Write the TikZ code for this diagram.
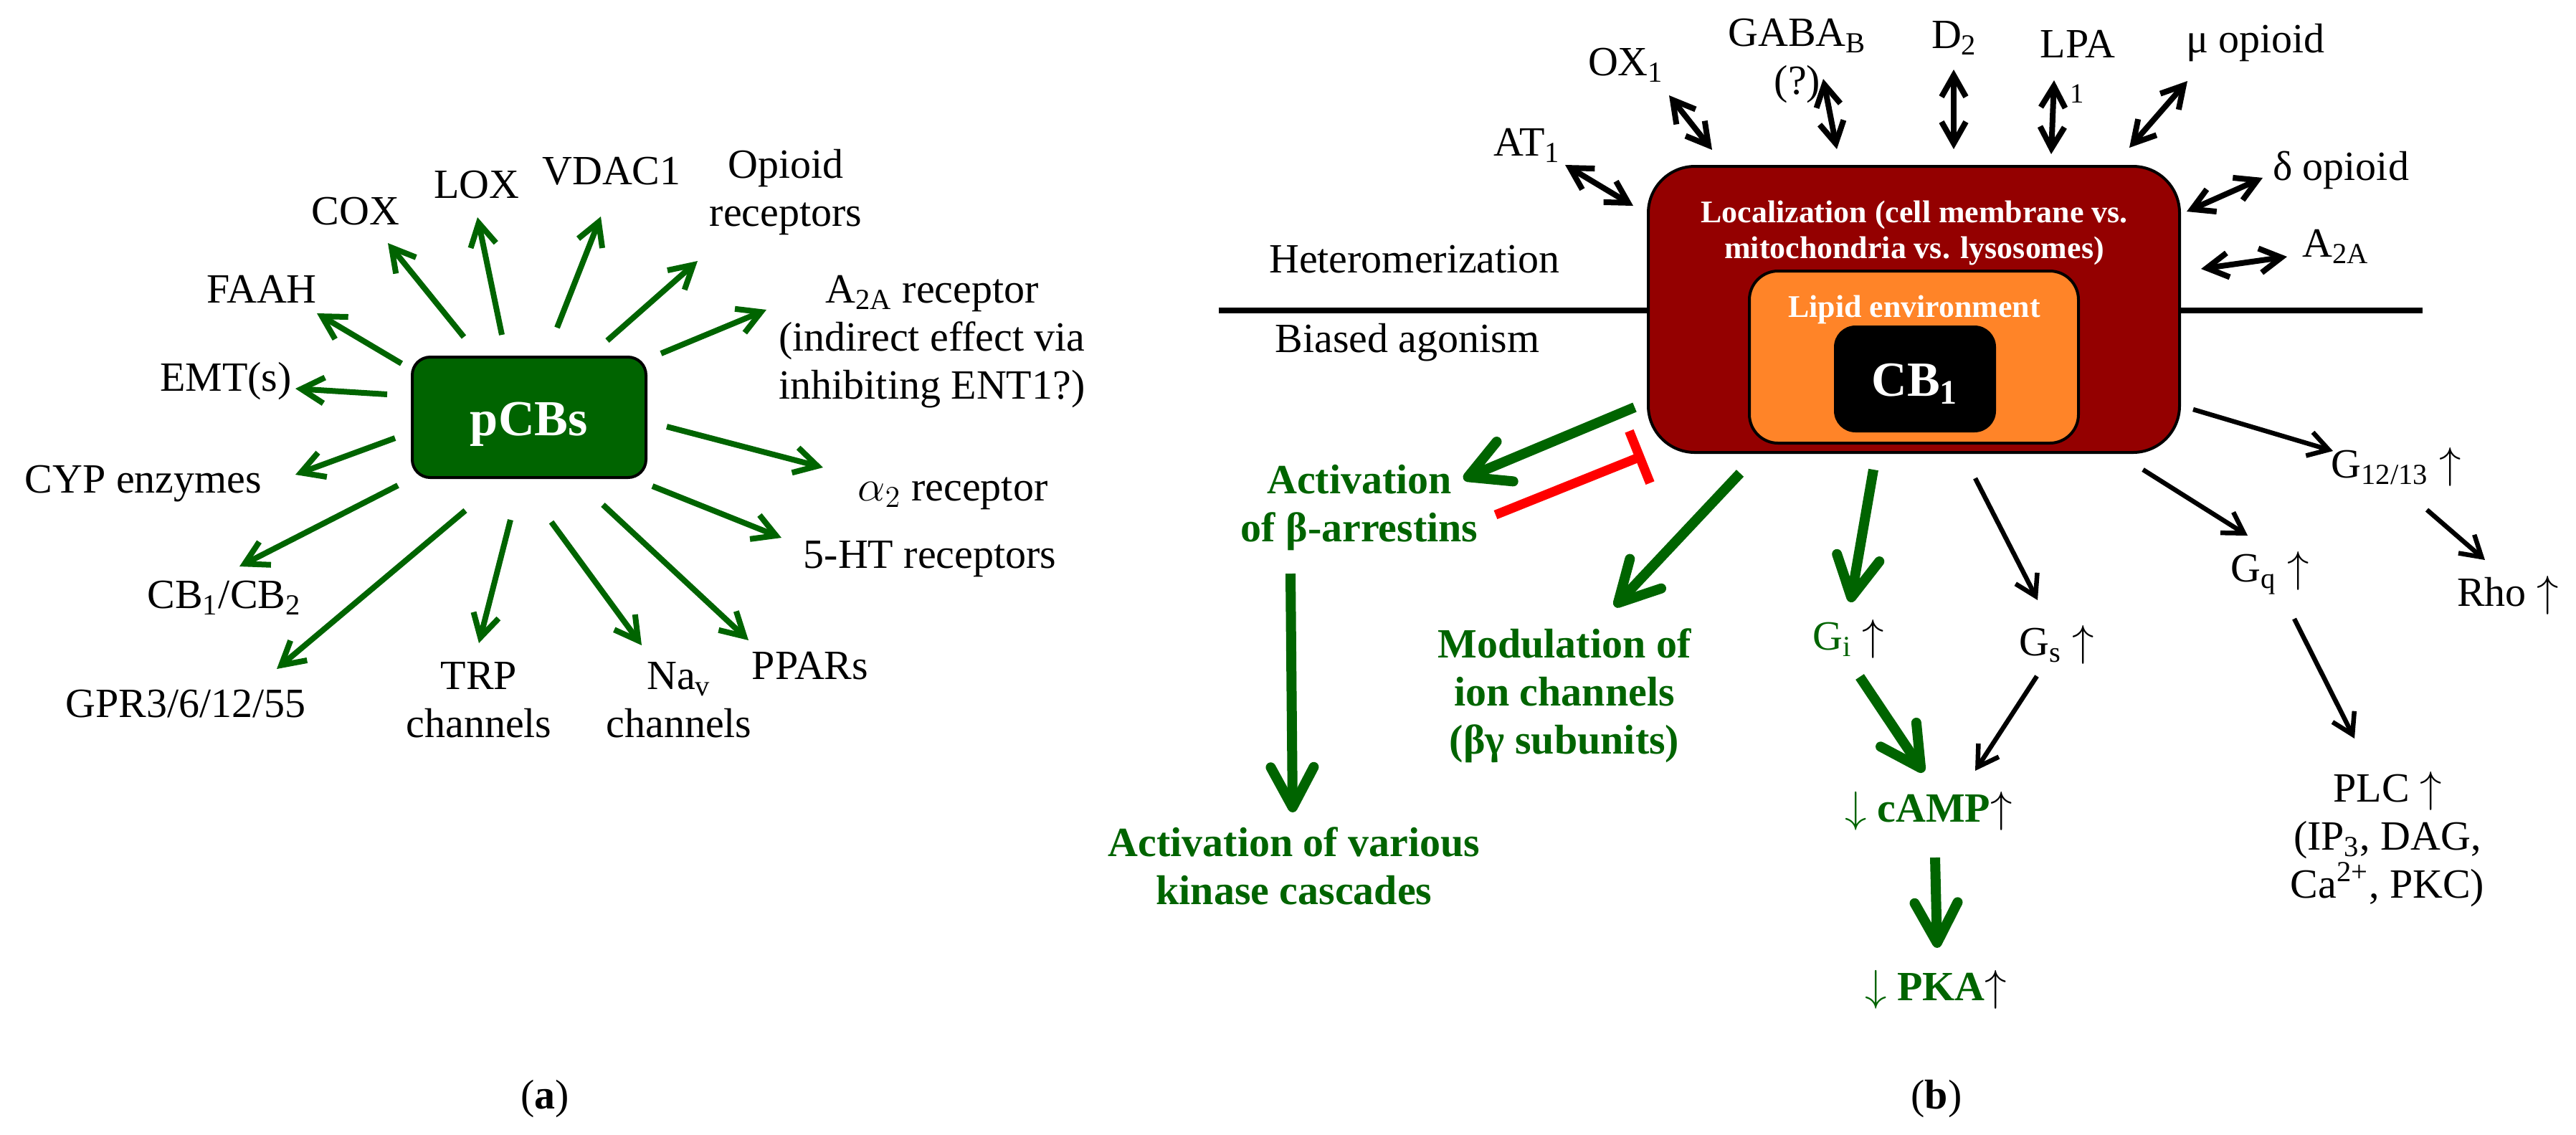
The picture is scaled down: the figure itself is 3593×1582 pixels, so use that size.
\documentclass[tikz,border=0pt]{standalone}
\usepackage{fontspec}
\setmainfont{Liberation Serif}
\usetikzlibrary{arrows.meta}
\definecolor{dgreen}{RGB}{0,100,0}
\definecolor{dred}{RGB}{148,0,0}
\definecolor{orng}{RGB}{255,132,40}
\begin{document}
\begin{tikzpicture}[x=0.1mm,y=-0.1mm,
  txt/.style={font=\fontsize{16.5}{19}\selectfont, inner sep=0pt, align=center, anchor=base},
  gtxt/.style={txt, text=dgreen, font=\fontsize{16.5}{19}\selectfont\bfseries},
  small1/.style={font=\fontsize{11}{13}\selectfont, inner sep=0pt, anchor=base},
  wtxt/.style={font=\fontsize{12.5}{14.2}\selectfont\bfseries, text=white, inner sep=0pt, align=center, anchor=base},
  garrowa/.style={draw=dgreen, line width=0.8mm, -{Straight Barb[length=3.2mm,width=3.6mm]}},
  bidi/.style={draw=black, line width=0.8mm, {Straight Barb[length=3mm,width=3.4mm]}-{Straight Barb[length=3mm,width=3.4mm]}},
  barrow/.style={draw=black, line width=0.65mm, -{Straight Barb[length=2.8mm,width=3.4mm]}},
  gthick/.style={draw=dgreen, line width=1.4mm, -{Straight Barb[round,length=5.6mm,width=6mm]}},
  inhib/.style={draw=red, line width=1.3mm, -{Bar[width=7.8mm]}},
  divider/.style={draw=black, line width=0.8mm},
]
\useasboundingbox (0,0) rectangle (3593,1582);

% ---------------- panel (a) ----------------
\node[draw=black, line width=0.4mm, fill=dgreen, rounded corners=2.5mm,
      minimum width=32.6mm, minimum height=16.8mm, inner sep=0pt,
      text=white, font=\fontsize{20}{24}\selectfont\bfseries,
      text height=5mm, text depth=0pt] (pcb) at (738,582) {pCBs};

% multi-line nodes: anchor=base sits on the LAST line's baseline
\node[txt] (faah) at (365,422) {FAAH};
\node[txt] (cox) at (496,313) {COX};
\node[txt] (lox) at (665,276) {LOX};
\node[txt] (vdac) at (853,257) {VDAC1};
\node[txt] (opi) at (1096,315) {Opioid\\receptors};
\node[txt] (a2a) at (1300,556) {A\textsubscript{2A} receptor\\(indirect effect via\\inhibiting ENT1?)};
\node[txt] (alpha) at (1329,698) {$\alpha_2$ receptor};
\node[txt] (ht) at (1297,792) {5-HT receptors};
\node[txt] (ppar) at (1130,947) {PPARs};
\node[txt] (nav) at (947,1028) {Na\textsubscript{v}\\channels};
\node[txt] (trp) at (668,1028) {TRP\\channels};
\node[txt] (gpr) at (259,1000) {GPR3/6/12/55};
\node[txt] (cb12) at (313,848) {CB\textsubscript{1}/CB\textsubscript{2}};
\node[txt] (cyp) at (200,687) {CYP enzymes};
\node[txt] (emt) at (315,545) {EMT(s)};
\node[txt] (lab-a) at (760,1546) {(\textbf{a})};

\foreach \n/\sx/\sy/\ex/\ey in {
  faah/560/507/442/437, cox/647/470/541/339, lox/700/467/666/303,
  vdac/777/457/838/302, opi/847/475/973/364, a2a/922/493/1069/432,
  alpha/930/595/1148/652, ht/910/678/1090/750, ppar/841/704/1044/893,
  nav/769/728/895/900, trp/712/725/668/897, gpr/649/712/386/933,
  cb12/555/677/334/790, cyp/551/611/412/662, emt/540/550/412/542}{
  \coordinate (s-\n) at (\sx,\sy);
  \coordinate (e-\n) at (\ex,\ey);
  \draw[garrowa] (s-\n) -- (e-\n);
}

% ---------------- panel (b) ----------------
\coordinate (div-l) at (1700,433);
\coordinate (div-r) at (3379,433);
\draw[divider] (div-l) -- (div-r);
\node[txt] (het) at (1973,380) {Heteromerization};
\node[txt] (bias) at (1963,491) {Biased agonism};

\node[draw=black, line width=0.4mm, fill=dred, rounded corners=6.5mm,
      minimum width=74.1mm, minimum height=39.9mm, inner sep=0pt] (big) at (2669.5,431.5) {};
\node[wtxt] (loc) at (2670,360) {Localization (cell membrane vs.\\mitochondria vs. lysosomes)};
\node[draw=black, line width=0.4mm, fill=orng, rounded corners=4mm,
      minimum width=45.9mm, minimum height=24mm, inner sep=0pt] (lip) at (2669.5,498) {};
\node[wtxt] (liptxt) at (2670,442) {Lipid environment};
\node[fill=black, rounded corners=3mm, minimum width=22.6mm, minimum height=14.9mm,
      inner sep=0pt, text=white, font=\fontsize{19.5}{23}\selectfont\bfseries,
      text height=4.8mm, text depth=0pt] (cb1) at (2671,528.5) {CB\textsubscript{1}};

% partners
\node[txt] (at1) at (2130,217) {AT\textsubscript{1}};
\node[txt] (ox1) at (2268,105) {OX\textsubscript{1}};
\node[txt] (gaba) at (2507,131) {GABA\textsubscript{B}\\(?)};
\node[txt] (d2) at (2726,67) {D\textsubscript{2}};
\node[txt] (lpa) at (2898,80) {LPA};
\node[small1] (lpa1) at (2897,143) {1};
\node[txt] (mu) at (3146,73) {μ opioid};
\node[txt] (delta) at (3265,251) {δ opioid};
\node[txt] (a2ab) at (3258,358) {A\textsubscript{2A}};

\foreach \n/\sx/\sy/\ex/\ey in {
  at1/2183/230/2278/287, ox1/2328/133/2388/209, gaba/2543/110/2562/208,
  d2/2725/97/2725/208, lpa/2865/112/2861/215, mu/3051/113/2970/206,
  delta/3156/248/3050/295, a2ab/3190/358/3070/375}{
  \coordinate (p-\n) at (\sx,\sy);
  \coordinate (q-\n) at (\ex,\ey);
  \draw[bidi] (p-\n) -- (q-\n);
}

% signalling texts
\node[gtxt] (barr) at (1896,755) {Activation\\of β-arrestins};
\node[gtxt] (kin) at (1805,1261) {Activation of various\\kinase cascades};
\node[gtxt] (mod) at (2182,1051) {Modulation of\\ion channels\\(βγ subunits)};
\node[txt, text=dgreen] (gi) at (2578,906) {G\textsubscript{i} {\color{black}$\uparrow$}};
\node[txt, text=dgreen] (camp) at (2690,1146) {$\downarrow$ \textbf{cAMP}{\color{black}$\uparrow$}};
\node[txt, text=dgreen] (pka) at (2700,1395) {$\downarrow$ \textbf{PKA}{\color{black}$\uparrow$}};
\node[txt] (gs) at (2869,914) {G\textsubscript{s} $\uparrow$};
\node[txt] (gq) at (3166,811) {G\textsubscript{q} $\uparrow$};
\node[txt] (g1213) at (3342,666) {G\textsubscript{12/13} $\uparrow$};
\node[txt] (rho) at (3498,845) {Rho $\uparrow$};
\node[txt] (plc) at (3330,1252) {PLC $\uparrow$\\(IP\textsubscript{3}, DAG,\\Ca\textsuperscript{2+}, PKC)};
\node[txt] (lab-b) at (2701,1546) {(\textbf{b})};

% green thick arrows
\coordinate (big-barr) at (2280,568);  \coordinate (barr-in) at (2041,668);
\coordinate (big-mod) at (2427,660);   \coordinate (mod-in) at (2252,846);
\coordinate (big-gi) at (2613,655);    \coordinate (gi-in) at (2581,840);
\coordinate (barr-out) at (1800,800);  \coordinate (kin-in) at (1803,1133);
\coordinate (gi-out) at (2594,944);    \coordinate (camp-in) at (2683,1077);
\coordinate (camp-out) at (2699,1196); \coordinate (pka-in) at (2702,1322);
\draw[gthick] (big-barr) -- (barr-in);
\draw[gthick] (big-mod) -- (mod-in);
\draw[gthick] (big-gi) -- (gi-in);
\draw[gthick] (barr-out) -- (kin-in);
\draw[gthick] (gi-out) -- (camp-in);
\draw[gthick] (camp-out) -- (pka-in);

% inhibition
\coordinate (barr-inh) at (2086,718); \coordinate (big-inh) at (2293,635);
\draw[inhib] (barr-inh) -- (big-inh);

% black arrows
\coordinate (big-gs) at (2755,667);    \coordinate (gs-in) at (2842,837);
\coordinate (big-gq) at (2989,655);    \coordinate (gq-in) at (3135,747);
\coordinate (big-g12) at (3059,571);   \coordinate (g12-in) at (3254,629);
\coordinate (g12-out) at (3385,711);   \coordinate (rho-in) at (3466,781);
\coordinate (gq-out) at (3200,863);    \coordinate (plc-in) at (3284,1030);
\coordinate (gs-out) at (2841,943);    \coordinate (camp-in2) at (2755,1075);
\draw[barrow] (big-gs) -- (gs-in);
\draw[barrow] (big-gq) -- (gq-in);
\draw[barrow] (big-g12) -- (g12-in);
\draw[barrow] (g12-out) -- (rho-in);
\draw[barrow] (gq-out) -- (plc-in);
\draw[barrow] (gs-out) -- (camp-in2);
\end{tikzpicture}
\end{document}
